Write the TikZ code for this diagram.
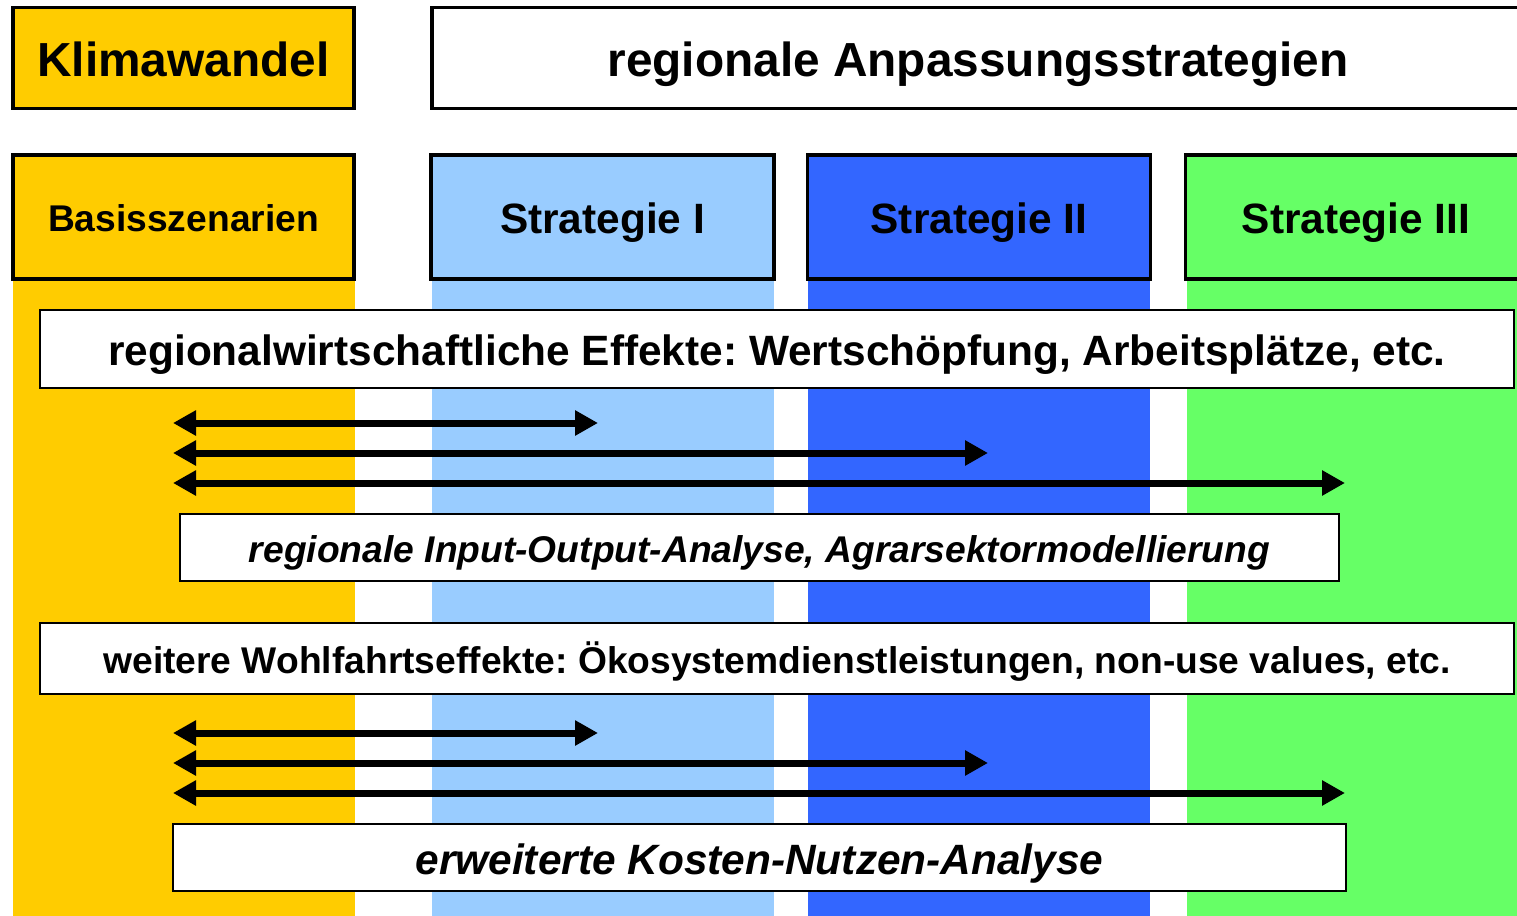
\documentclass[tikz,border=0pt]{standalone}
\usepackage{fontspec}
\setmainfont{Liberation Sans}
\frenchspacing
\usetikzlibrary{arrows.meta,positioning}
\definecolor{kGelb}{RGB}{255,204,0}
\definecolor{kHellblau}{RGB}{153,204,255}
\definecolor{kBlau}{RGB}{51,102,255}
\definecolor{kGruen}{RGB}{102,255,102}

\begin{document}
\begin{tikzpicture}[x=0.5pt,y=-0.5pt,
  kopf/.style={draw=black,line width=1.75pt,minimum height=50.5pt,inner sep=0pt,font=\fontsize{23.9}{28}\selectfont\bfseries,text height=18.4pt,text depth=0pt},
  strat/.style={draw=black,line width=1.75pt,minimum height=62pt,inner sep=0pt,font=\fontsize{21.2}{25}\selectfont\bfseries,text height=16.8pt,text depth=0pt},
  band/.style={draw=black,fill=white,line width=1pt,inner sep=0pt,text height=16.8pt,text depth=0pt},
  gross/.style={font=\fontsize{21.2}{25}\selectfont\bfseries},
  klein/.style={font=\fontsize{18.6}{22}\selectfont\bfseries,text height=14.9pt},
  pf/.style={{Triangle[length=11.5pt,width=12pt]}-{Triangle[length=11.5pt,width=12pt]},line width=3.5pt}]
\useasboundingbox (0,0) rectangle (1517,916);
% Saeulen
\fill[kGelb] (13,200) rectangle (355,916);
\fill[kHellblau] (432,200) rectangle (774,916);
\fill[kBlau] (808,200) rectangle (1150,916);
\fill[kGruen] (1187,200) rectangle (1530,916);
% Kopfzeile
\node[kopf,fill=kGelb,minimum width=170.5pt] (klima) at (183.5,58) {Klimawandel};
\node[kopf,fill=white,minimum width=546pt] (ziel) at (978,58) {regionale Anpassungsstrategien};
\node[strat,fill=kGelb,minimum width=170.5pt,klein] (basis) at (183.5,217) {Basisszenarien};
\node[strat,fill=kHellblau,minimum width=171.5pt] (s1) at (602.5,217) {Strategie I};
\node[strat,fill=kBlau,minimum width=171.5pt] (s2) at (979,217) {Strategie II};
\node[strat,fill=kGruen,minimum width=170.5pt] (s3) at (1356,217) {Strategie III};
% Baender
\node[band,gross,minimum width=737pt,minimum height=39pt] (effekte) at (777,349) {regionalwirtschaftliche Effekte: Wertschöpfung, Arbeitsplätze, etc.};
\node[band,klein,minimum width=579.5pt,minimum height=33.5pt] (io) at (759.5,547.5) {\itshape regionale Input-Output-Analyse, Agrarsektormodellierung};
\node[band,klein,minimum width=737pt,minimum height=35.5pt] (wohl) at (777,658.5) {weitere Wohlfahrtseffekte: Ökosystemdienstleistungen, non-use values, etc.};
\node[band,gross,minimum width=586.5pt,minimum height=33.5pt] (knA) at (759.5,857.5) {\itshape erweiterte Kosten-Nutzen-Analyse};
% Pfeile
\foreach \n/\y/\x in {1/423/598,2/453/988,3/483/1345,4/733/598,5/763/988,6/793/1345}{
  \coordinate (l\n) at (173,\y);
  \coordinate (r\n) at (\x,\y);
}
\foreach \a/\b in {l1/r1,l2/r2,l3/r3,l4/r4,l5/r5,l6/r6} \draw[pf] (\a) -- (\b);
\end{tikzpicture}
\end{document}
